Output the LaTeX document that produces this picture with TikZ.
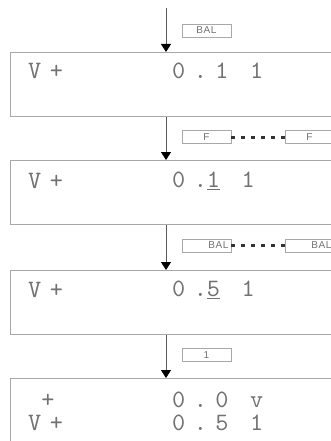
\documentclass[tikz,border=0pt]{standalone}
\usepackage{fontspec}
\usepackage{xcolor}
\usepackage{tikz}
\usetikzlibrary{positioning, arrows.meta}

\newfontfamily\lcdfont{lmmono10-regular.otf}[LetterSpace=34]
\newfontfamily\keyfont{Liberation Sans}[LetterSpace=6]
\definecolor{framegray}{HTML}{A8A8A8}
\definecolor{lcdtext}{HTML}{727272}

\begin{document}
\begin{tikzpicture}[
    x=1pt, y=-1pt,
    screen/.style={draw=framegray, line width=0.9pt, minimum width=323pt, minimum height=64pt, inner sep=0pt, anchor=north west},
    readout/.style={font=\lcdfont\fontsize{25}{27}\selectfont, text=lcdtext, inner sep=0pt, anchor=west},
    keybox/.style={draw=framegray, line width=0.8pt, minimum width=49pt, minimum height=13pt, inner sep=0pt, font=\keyfont\fontsize{10}{10}\selectfont, text=lcdtext},
    keyright/.style={text width=44pt, align=right},
    flow/.style={-{Triangle[width=10pt,length=8pt,color=black]}, draw=black!65, line width=0.8pt},
    link/.style={draw=black!80, line width=3pt, dash pattern=on 4pt off 6pt}
]
    \path[use as bounding box, clip] (0,0) rectangle (331,441);

    % display frames
    \node[screen] (s1) at (10,52) {};
    \node[screen] (s2) at (10,160) {};
    \node[screen] (s3) at (10,270) {};
    \node[screen] (s4) at (10,378) {};

    % readouts
    \node[readout] (m1) at (28,71) {V+};
    \node[readout] (v1) at (172,71) {0.1 1};
    \node[readout] (m2) at (28,181) {V+};
    \node[readout] (v2) at (172,181) {0.\underline{1} 1};
    \node[readout] (m3) at (28,290) {V+};
    \node[readout] (v3) at (172,290) {0.\underline{5} 1};
    \node[readout] (m4) at (28,400) {\phantom{V}+};
    \node[readout] (v4) at (172,400) {0.0 v};
    \node[readout] (m5) at (28,423) {V+};
    \node[readout] (v5) at (172,423) {0.5 1};

    % keys
    \node[keybox] (k1) at (206.5,30.5) {BAL};
    \node[keybox] (k2a) at (206.5,137) {F};
    \node[keybox] (k2b) at (309.5,137) {F};
    \node[keybox, keyright] (k3a) at (206.5,245.5) {BAL};
    \node[keybox, keyright] (k3b) at (309.5,245.5) {BAL};
    \node[keybox] (k4) at (206.5,355) {1};
    \draw[link] (k2a) -- (k2b);
    \draw[link] (k3a) -- (k3b);

    % steps
    \coordinate (in) at (166,8);
    \draw[flow] (in) -- (in |- s1.north);
    \draw[flow] (s1.south -| in) -- (s2.north -| in);
    \draw[flow] (s2.south -| in) -- (s3.north -| in);
    \draw[flow] (s3.south -| in) -- (s4.north -| in);
\end{tikzpicture}
\end{document}
